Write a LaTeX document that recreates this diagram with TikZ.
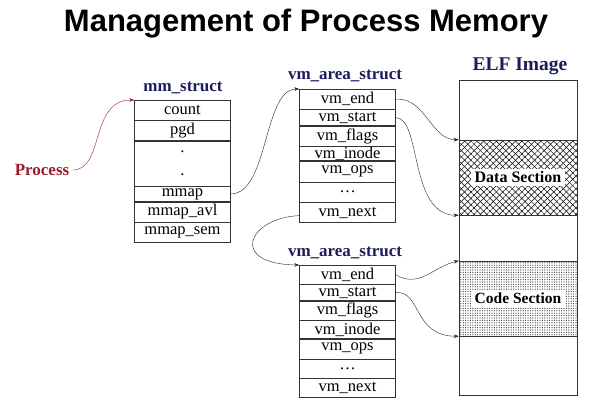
\documentclass[tikz,border=0pt]{standalone}
\usepackage{fontspec}
\setmainfont{Liberation Serif}
\newfontfamily\titlefont{Liberation Sans}
\usetikzlibrary{arrows.meta, positioning, patterns.meta}
\definecolor{memNavy}{HTML}{1C1C5E}
\definecolor{memRed}{HTML}{9E1B2A}

\begin{document}
\begin{tikzpicture}[x=1pt, y=-1pt,
    cell/.style={rectangle, draw=black!80, minimum width=96pt, inner sep=0pt,
                 anchor=north, font=\fontsize{16.5}{16.5}\selectfont},
    head/.style={font=\fontsize{17}{17}\selectfont\bfseries\color{memNavy}},
    section/.style={rectangle, draw=black!80, minimum width=118pt, inner sep=0pt},
    seclabel/.style={fill=white, inner xsep=4pt, inner ysep=3pt,
                     font=\fontsize{16}{16}\selectfont\bfseries},
    arr/.style={-{Stealth[length=5pt, width=3.5pt]}, black!85},
  ]
    \useasboundingbox (0,0) rectangle (592,402);

    % title
    \node[font=\titlefont\bfseries\fontsize{31}{31}\selectfont] (title) at (306,24)
      {Management of Process Memory};

    % process
    \node[font=\fontsize{17}{17}\selectfont\bfseries\color{memRed}] (proc) at (42,170) {Process};

    % mm_struct
    \node[head] (mmhead) at (183,88) {mm\_struct};
    \node[cell, minimum height=20pt] (mcount) at (182.5,100) {count};
    \node[cell, minimum height=20pt, below=0pt of mcount] (mpgd) {pgd};
    \node[cell, minimum height=45pt, align=center, below=0pt of mpgd] (mdots) {.\\[6pt].};
    \node[cell, minimum height=15pt, below=0pt of mdots] (mmap) {mmap};
    \node[cell, minimum height=20pt, below=0pt of mmap] (mavl) {mmap\_avl};
    \node[cell, minimum height=20pt, below=0pt of mavl] (msem) {mmap\_sem};

    % first vm_area_struct
    \node[head] (ahead) at (345,76) {vm\_area\_struct};
    \node[cell, minimum height=20pt] (aend) at (347.5,89) {vm\_end};
    \node[cell, minimum height=16pt, below=0pt of aend] (astart) {vm\_start};
    \node[cell, minimum height=20pt, below=0pt of astart] (aflags) {vm\_flags};
    \node[cell, minimum height=14pt, below=0pt of aflags] (ainode) {vm\_inode};
    \node[cell, minimum height=21pt, below=0pt of ainode] (aops) {vm\_ops};
    \node[cell, minimum height=20pt, below=0pt of aops] (adots) {\dots};
    \node[cell, minimum height=20pt, below=0pt of adots] (anext) {vm\_next};

    % second vm_area_struct
    \node[head] (bhead) at (345,253) {vm\_area\_struct};
    \node[cell, minimum height=19pt] (bend) at (347.5,265) {vm\_end};
    \node[cell, minimum height=16pt, below=0pt of bend] (bstart) {vm\_start};
    \node[cell, minimum height=19pt, below=0pt of bstart] (bflags) {vm\_flags};
    \node[cell, minimum height=18pt, below=0pt of bflags] (binode) {vm\_inode};
    \node[cell, minimum height=20pt, below=0pt of binode] (bops) {vm\_ops};
    \node[cell, minimum height=19pt, below=0pt of bops] (bdots) {\dots};
    \node[cell, minimum height=19pt, below=0pt of bdots] (bnext) {vm\_next};

    % ELF image
    \node[font=\fontsize{19.5}{19.5}\selectfont\bfseries\color{memNavy}] (elfhead) at (520,66) {ELF Image};
    \node[section, minimum height=315pt] (elf) at (518,237.5) {};
    \node[section, minimum height=75pt,
          preaction={pattern={Lines[angle=45, distance=4.5pt, line width=0.5pt]}},
          pattern={Lines[angle=-45, distance=4.5pt, line width=0.5pt]}] (data) at (518,177.5) {};
    \node[seclabel] (datalbl) at (data) {Data Section};
    \node[section, minimum height=75pt,
          pattern={Dots[distance=2.4pt, radius=0.6pt]}, pattern color=black!80] (code) at (518,298.5) {};
    \node[seclabel, font=\fontsize{15.5}{15.5}\selectfont\bfseries] (codelbl) at (code) {Code Section};

    % connectors
    \draw[arr, memRed] (proc.east) .. controls +(32,0) and +(-45,0) .. (mcount.north west);
    \draw[arr] (mmap.east) .. controls +(38,0) and +(-36,0) .. (aend.north west);
    \draw[arr] ([yshift=-3pt]anext.west) .. controls (248,218) and (228,264) .. (bend.north west);
    \draw[arr] (aend.east) .. controls +(30,-2) and +(-28,0) .. (data.north west);
    \draw[arr] (astart.east) .. controls +(26,0) and +(-50,0) .. (data.south west);
    \draw[arr] (bend.east) .. controls +(24,14) and +(-26,6) .. (code.north west);
    \draw[arr] (bstart.east) .. controls +(26,-2) and +(-46,0) .. (code.south west);
  \end{tikzpicture}
\end{document}
